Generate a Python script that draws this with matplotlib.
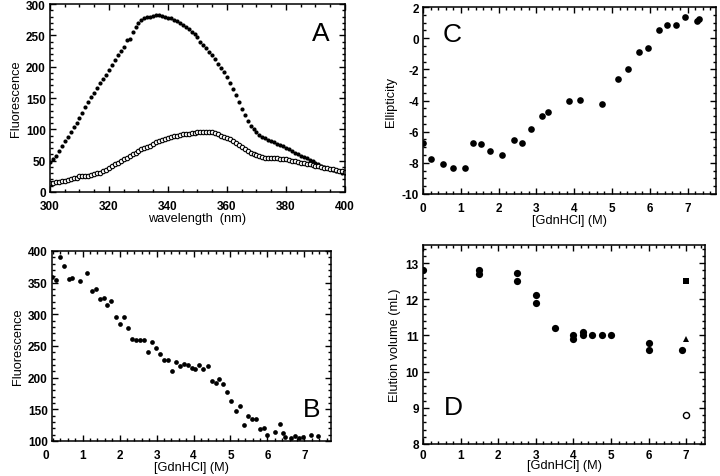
import numpy as np
import matplotlib
matplotlib.use('Agg')
import matplotlib.pyplot as plt
from matplotlib.ticker import MultipleLocator

plt.rcParams['font.family'] = ['Liberation Sans', 'DejaVu Sans']
plt.rcParams['axes.unicode_minus'] = False

# ---------------- panel A: emission spectra ----------------
wavelength = np.arange(300, 401)
fluor_native = [48, 52, 58, 66, 74, 82, 88, 95, 103, 110,
                118, 126, 136, 144, 151, 158, 166, 174, 181, 187,
                194, 202, 210, 218, 225, 232, 242, 244, 256, 264,
                270, 274, 277, 279, 280, 281, 282, 282, 281, 280,
                278, 277, 275, 273, 270, 267, 264, 260, 256, 252,
                247, 240, 234, 229, 224, 219, 213, 205, 198, 191,
                184, 174, 165, 154, 143, 132, 123, 114, 106, 100,
                95, 91, 88, 86, 83, 81, 79, 77, 75, 73,
                71, 68, 66, 63, 61, 58, 56, 54, 51, 49,
                46, 44, 42, 40, 39, 37, 35, 34, 33, 31, 30]
fluor_denat = [15, 15, 16, 16, 17, 18, 19, 20, 22, 23,
               25, 25, 26, 26, 27, 28, 30, 31, 33, 35,
               38, 41, 44, 47, 50, 52, 55, 58, 60, 63,
               65, 68, 70, 72, 74, 76, 79, 81, 83, 85,
               86, 88, 89, 90, 91, 92, 93, 93, 94, 94,
               95, 95, 95, 95, 95, 95, 94, 92, 90, 88,
               86, 84, 81, 78, 75, 72, 69, 66, 63, 61,
               59, 57, 56, 55, 55, 55, 54, 54, 53, 53,
               52, 51, 50, 49, 48, 47, 46, 45, 44, 43,
               42, 41, 40, 39, 38, 37, 36, 35, 34, 33, 32]

# ---------------- panel B: fluorescence vs denaturant ----------------
gdn_b = [0.16, 0.28, 0.39, 0.50, 0.62, 0.71, 0.92, 1.13, 1.25, 1.36,
         1.46, 1.57, 1.67, 1.78, 1.91, 2.02, 2.13, 2.24, 2.34, 2.44,
         2.56, 2.67, 2.77, 2.88, 2.99, 3.10, 3.20, 3.31, 3.42, 3.53,
         3.64, 3.74, 3.85, 3.95, 4.05, 4.16, 4.27, 4.38, 4.49, 4.60,
         4.70, 4.80, 4.91, 5.02, 5.14, 5.26, 5.37, 5.48, 5.58, 5.68,
         5.80, 5.90, 6.00, 6.21, 6.33, 6.43, 6.47, 6.64, 6.74, 6.86,
         6.96, 7.18, 7.38]
fluor_b = [359, 354, 391, 376, 355, 358, 353, 365, 337, 340,
           324, 326, 315, 321, 295, 284, 295, 278, 261, 259,
           260, 260, 240, 256, 247, 237, 228, 228, 211, 224,
           218, 221, 220, 215, 213, 220, 214, 218, 195, 191,
           198, 190, 177, 163, 147, 155, 126, 140, 135, 135,
           119, 121, 110, 114, 127, 112, 106, 105, 108, 105,
           106, 109, 108]

# ---------------- panel C: ellipticity ----------------
gdn_c = [0.0, 0.22, 0.54, 0.79, 1.10, 1.31, 1.53, 1.77, 2.09, 2.41,
         2.63, 2.85, 3.16, 3.31, 3.85, 4.16, 4.73, 5.17, 5.41, 5.72,
         5.94, 6.25, 6.45, 6.70, 6.94, 7.24, 7.30]
ellip = [-6.7, -7.75, -8.05, -8.3, -8.3, -6.7, -6.8, -7.25, -7.5, -6.55,
         -6.7, -5.85, -5.0, -4.75, -4.0, -3.95, -4.2, -2.6, -1.95, -0.9,
         -0.65, 0.55, 0.85, 0.85, 1.35, 1.1, 1.25]

# ---------------- panel D: elution volume ----------------
gdn_d = [0.0, 1.5, 1.5, 2.5, 2.5, 3.0, 3.0, 3.5, 4.0, 4.0,
         4.25, 4.25, 4.5, 4.75, 5.0, 6.0, 6.0, 6.9]
elution = [12.8, 12.81, 12.7, 12.72, 12.5, 12.12, 11.9, 11.2, 11.0, 10.9,
           11.1, 11.0, 11.0, 11.0, 11.0, 10.8, 10.6, 10.6]
std_x = [7.0]
std_square = [12.5]
std_triangle = [10.9]
std_open = [8.8]

fig = plt.figure(figsize=(7.2, 4.77), dpi=100)
axA = fig.add_axes([0.0694, 0.5954, 0.4097, 0.3941])
axC = fig.add_axes([0.5875, 0.5912, 0.4069, 0.3920])
axB = fig.add_axes([0.0722, 0.0734, 0.3875, 0.3983])
axD = fig.add_axes([0.5875, 0.0671, 0.3917, 0.4172])

TICK_FS = 8.5
LABEL_FS = 9.2


def style(ax, xmaj, xmin, ymaj, ymin, xpad=5.5):
    ax.xaxis.set_major_locator(MultipleLocator(xmaj))
    ax.xaxis.set_minor_locator(MultipleLocator(xmin))
    ax.yaxis.set_major_locator(MultipleLocator(ymaj))
    ax.yaxis.set_minor_locator(MultipleLocator(ymin))
    ax.tick_params(which='both', direction='in', top=True, right=True,
                   width=1.0, labelsize=TICK_FS)
    ax.tick_params(axis='x', pad=xpad)
    ax.tick_params(axis='y', pad=3)
    ax.tick_params(which='major', length=4)
    ax.tick_params(which='minor', length=2)
    for lab in ax.get_xticklabels() + ax.get_yticklabels():
        lab.set_fontweight('bold')
    for sp in ax.spines.values():
        sp.set_linewidth(1.1)


# A
axA.plot(wavelength, fluor_native, 'o', color='black', ms=3.0, mew=0)
axA.plot(wavelength, fluor_denat, 'o', mfc='white', mec='black', ms=3.2, mew=0.8)
axA.set_xlim(300, 400)
axA.set_ylim(0, 300)
style(axA, 20, 5, 50, 10)
axA.set_xlabel('wavelength  (nm)', fontsize=LABEL_FS, labelpad=0)
axA.set_ylabel('Fluorescence', fontsize=LABEL_FS, labelpad=3)
axA.text(0.918, 0.846, 'A', transform=axA.transAxes, fontsize=19,
         ha='center', va='center')

# C
axC.plot(gdn_c, ellip, 'o', color='black', ms=4.8, mew=0)
axC.set_xlim(0, 7.75)
axC.set_ylim(-10, 2)
style(axC, 1, 0.2, 2, 0.5)
axC.set_xlabel('[GdnHCl] (M)', fontsize=LABEL_FS, labelpad=0)
axC.set_ylabel('Ellipticity', fontsize=LABEL_FS, labelpad=3)
axC.text(0.098, 0.856, 'C', transform=axC.transAxes, fontsize=19,
         ha='center', va='center')

# B
axB.plot(gdn_b, fluor_b, 'o', color='black', ms=3.4, mew=0)
axB.set_xlim(0.17, 7.72)
axB.set_ylim(100, 400)
style(axB, 1, 0.2, 50, 10)
axB.annotate('0', xy=(0, 0), xycoords=axB.get_xaxis_transform(),
             xytext=(0, -5.5), textcoords='offset points', fontsize=TICK_FS,
             fontweight='bold', ha='center', va='top', annotation_clip=False)
axB.set_xlabel('[GdnHCl] (M)', fontsize=LABEL_FS, labelpad=0)
axB.set_ylabel('Fluorescence', fontsize=LABEL_FS, labelpad=3)
axB.text(0.93, 0.168, 'B', transform=axB.transAxes, fontsize=19,
         ha='center', va='center')

# D
axD.plot(gdn_d, elution, 'o', color='black', ms=5.2, mew=0)
axD.plot(std_x, std_square, 's', color='black', ms=5.0, mew=0)
axD.plot(std_x, std_triangle, '^', color='black', ms=4.6, mew=0)
axD.plot(std_x, std_open, 'o', mfc='white', mec='black', ms=4.4, mew=1.0)
axD.set_xlim(0, 7.5)
axD.set_ylim(8, 13.5)
style(axD, 1, 0.2, 1, 0.2, xpad=3.5)
axD.set_xlabel('[GdnHCl] (M)', fontsize=LABEL_FS, labelpad=-1)
axD.set_ylabel('Elution volume (mL)', fontsize=LABEL_FS, labelpad=3)
axD.text(0.107, 0.184, 'D', transform=axD.transAxes, fontsize=19,
         ha='center', va='center')

fig.savefig('out.png', dpi=100)
